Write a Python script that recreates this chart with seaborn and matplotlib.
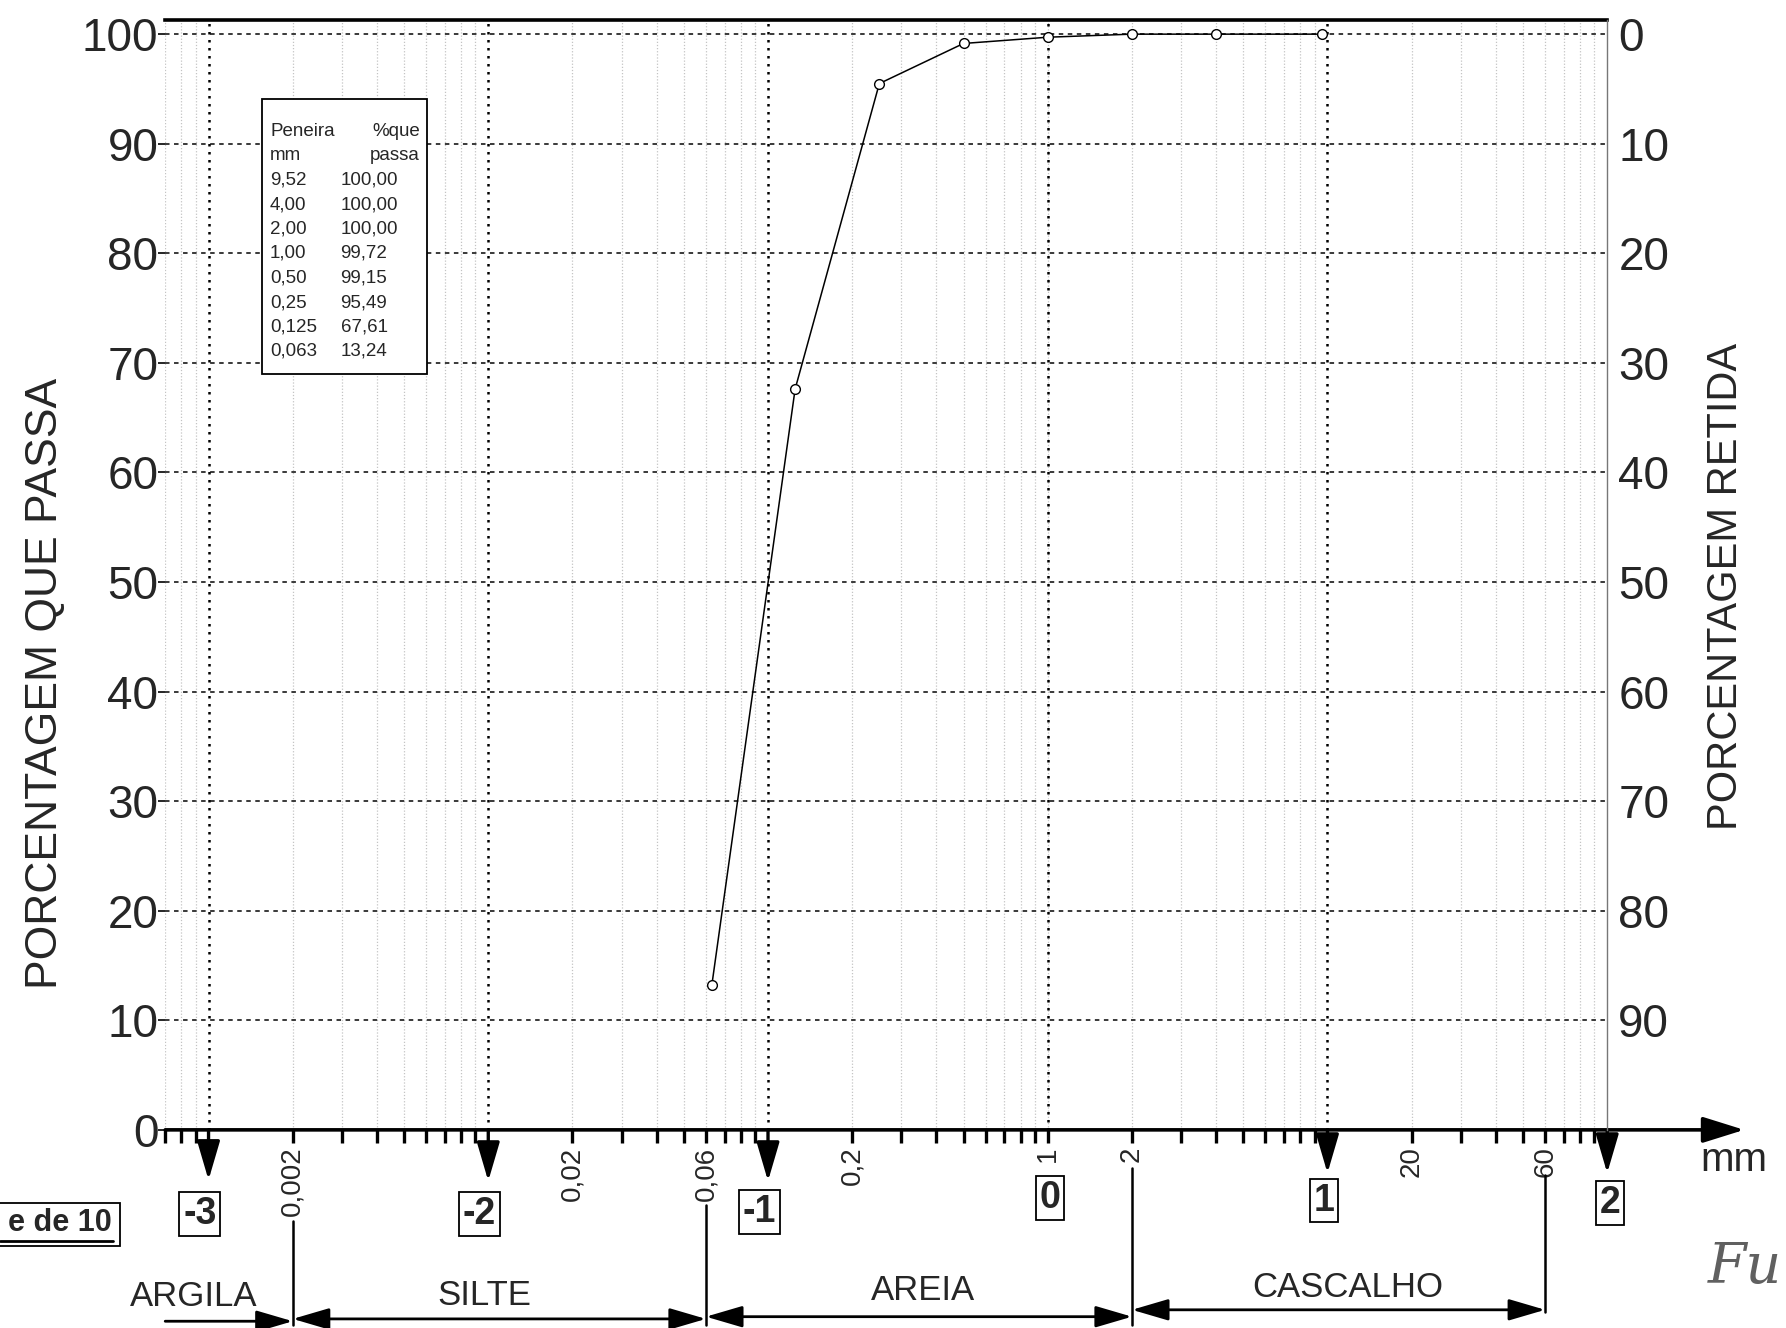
import numpy as np
import pandas as pd
import matplotlib
matplotlib.use("Agg")
import matplotlib.pyplot as plt
import seaborn as sns
from matplotlib.ticker import FixedLocator, FixedFormatter, NullFormatter
from matplotlib.transforms import blended_transform_factory
from matplotlib.patches import Rectangle
from matplotlib.lines import Line2D

# ---------------- data ----------------
sieve_mm = [9.52, 4.00, 2.00, 1.00, 0.50, 0.25, 0.125, 0.063]
pct_passing = [100.00, 100.00, 100.00, 99.72, 99.15, 95.49, 67.61, 13.24]
sieve_labels = ["9,52", "4,00", "2,00", "1,00", "0,50", "0,25", "0,125", "0,063"]
passing_labels = ["100,00", "100,00", "100,00", "99,72", "99,15", "95,49", "67,61", "13,24"]

y_ticks = [0, 10, 20, 30, 40, 50, 60, 70, 80, 90, 100]
retained_ticks = [0, 10, 20, 30, 40, 50, 60, 70, 80, 90]
x_label_ticks = [0.002, 0.02, 0.06, 0.2, 1, 2, 20, 60]
x_label_text = ["0,002", "0,02", "0,06", "0,2", "1", "2", "20", "60"]
decades = [0.001, 0.01, 0.1, 1, 10, 100]
decade_labels = ["-3", "-2", "-1", "0", "1", "2"]
class_bounds = [0.0007, 0.002, 0.06, 2, 60]
class_names = ["ARGILA", "SILTE", "AREIA", "CASCALHO"]

# ---------------- style ----------------
sns.set_style("white")
plt.rcParams["font.family"] = ["Liberation Sans", "DejaVu Sans"]
NARROW = ["Liberation Sans Narrow", "Liberation Sans", "DejaVu Sans"]

W, H = 1786, 1328
fig = plt.figure(figsize=(W / 100, H / 100), dpi=100)
ax = fig.add_axes([0.0925, 0.1492, 0.8074, 0.8354])

df = pd.DataFrame({"mm": sieve_mm, "passa": pct_passing})
sns.lineplot(data=df, x="mm", y="passa", ax=ax, color="black", lw=1.1,
             marker="o", markersize=7, markerfacecolor="white",
             markeredgecolor="black", markeredgewidth=1.0, zorder=5)

ax.set_xscale("log")
ax.set_xlim(0.0007, 100)
ax.set_ylim(0, 101.25)
ax.set_xlabel("")
ax.set_ylabel("")

# x ticks
minor_pos = []
for d in [1e-4, 1e-3, 1e-2, 1e-1, 1, 10]:
    for m in range(2, 10):
        v = float(f"{m * d:.6g}")
        if 0.0007 <= v <= 100 and v not in x_label_ticks:
            minor_pos.append(v)
ax.xaxis.set_major_locator(FixedLocator(x_label_ticks))
ax.xaxis.set_major_formatter(FixedFormatter(x_label_text))
ax.xaxis.set_minor_locator(FixedLocator(minor_pos))
ax.xaxis.set_minor_formatter(NullFormatter())
ax.tick_params(axis="x", which="both", direction="out", length=9, width=2.4,
               color="black", bottom=True)
ax.tick_params(axis="x", which="major", labelrotation=90, labelsize=20, pad=3)

# y ticks
ax.set_yticks(y_ticks)
ax.tick_params(axis="y", which="major", direction="out", length=5, width=1.4,
               labelsize=33, pad=0, left=True)

# grids
ax.grid(False)
ax.xaxis.grid(True, which="both", color="#c4c4c4", lw=0.9, ls=(0, (1, 1.5)), zorder=1)
ax.yaxis.grid(True, which="major", color="#2a2a2a", lw=1.3, ls=(0, (2.5, 2.5)), zorder=1)
for d in decades[:-1]:
    ax.axvline(d, color="black", lw=1.8, ls=(0, (1, 2.2)), zorder=2)

# spines
ax.spines["left"].set_visible(False)
ax.spines["bottom"].set_visible(False)
ax.spines["right"].set_visible(False)
ax.spines["top"].set_linewidth(2.6)
ax.spines["top"].set_color("black")

# bottom axis with arrow
ax.annotate("", xy=(1.095, 0), xytext=(0, 0), xycoords="axes fraction",
            textcoords="axes fraction", annotation_clip=False,
            arrowprops=dict(arrowstyle="-|>,head_length=0.8,head_width=0.25",
                            lw=2.6, color="black", mutation_scale=32,
                            shrinkA=0, shrinkB=0))

# right axis (percent retained)
ax2 = ax.twinx()
ax2.set_ylim(100, -1.25)
ax2.set_yticks(retained_ticks)
ax2.tick_params(axis="y", length=0, labelsize=33, pad=8)
for s in ["top", "left", "bottom"]:
    ax2.spines[s].set_visible(False)
ax2.spines["right"].set_color("#777777")
ax2.spines["right"].set_linewidth(1.0)
ax2.grid(False)

# axis titles
fig.text(45.6 / W, 1 - 683 / H, "PORCENTAGEM QUE PASSA", rotation=90,
         ha="center", va="center", fontsize=32)
fig.text(1725.6 / W, 1 - 586.6 / H, "PORCENTAGEM RETIDA", rotation=90,
         ha="center", va="center", fontsize=30)
fig.text(1734 / W, 1 - 1160 / H, "mm", ha="center", va="center", fontsize=29)

# decade arrows + boxed labels
tr = blended_transform_factory(ax.transData, ax.transAxes)
tips = [-0.0452, -0.0462, -0.0462, None, -0.039, -0.039]
box_x = [0.00093, 0.0093, 0.093, 1.02, 9.7, 102]
box_y = [-0.076, -0.076, -0.0739, -0.0616, -0.0637, -0.0657]
for d, tip, lab, bx, by in zip(decades, tips, decade_labels, box_x, box_y):
    if tip is not None:
        ax.annotate("", xy=(d, tip), xytext=(d, 0), xycoords=tr, textcoords=tr,
                    annotation_clip=False,
                    arrowprops=dict(arrowstyle="-|>,head_length=0.75,head_width=0.22",
                                    lw=2.4, color="black", mutation_scale=32,
                                    shrinkA=0, shrinkB=0))
    ax.text(bx, by, lab, transform=tr, ha="center", va="center", fontsize=27,
            fontweight="bold", family=NARROW, clip_on=False,
            bbox=dict(boxstyle="square,pad=0.1", fc="white", ec="black", lw=1.3))

# class boundaries (start below the tick labels)
bound_top = [None, -0.082, -0.068, -0.0344, -0.0407]
bound_bot = [None, -0.1756, -0.1756, -0.1756, -0.1643]
for b, t0, t1 in zip(class_bounds, bound_top, bound_bot):
    if t0 is None:
        continue
    ax.add_line(Line2D([b, b], [t0, t1], transform=tr, color="black", lw=1.8,
                       clip_on=False))

arrow_y = [-0.1725, -0.1704, -0.1684, -0.1622]
text_x = [0.000885, 0.00966, 0.357, 11.8]
text_y = [-0.1499, -0.1489, -0.1448, -0.1417]
for i, name in enumerate(class_names):
    x0, x1 = class_bounds[i], class_bounds[i + 1]
    style = ("-|>" if i == 0 else "<|-|>") + ",head_length=0.75,head_width=0.22"
    ax.annotate("", xy=(x1, arrow_y[i]), xytext=(x0, arrow_y[i]), xycoords=tr,
                textcoords=tr, annotation_clip=False,
                arrowprops=dict(arrowstyle=style, lw=2.0, color="black",
                                mutation_scale=30, shrinkA=0, shrinkB=0))
    ax.text(text_x[i], text_y[i], name, transform=tr, ha="center", va="center",
            fontsize=25, clip_on=False)

# sieve table box
fig.patches.append(Rectangle((262 / W, 1 - 374 / H), (427 - 262) / W, (374 - 99) / H,
                             transform=fig.transFigure, fc="white", ec="black",
                             lw=1.3, zorder=10))
fs = 13.5
fig.text(270 / W, 1 - 132 / H, "Peneira", ha="left", va="center", fontsize=fs, zorder=11)
fig.text(420 / W, 1 - 132 / H, "%que", ha="right", va="center", fontsize=fs, zorder=11)
fig.text(270 / W, 1 - 156 / H, "mm", ha="left", va="center", fontsize=fs, zorder=11)
fig.text(420 / W, 1 - 156 / H, "passa", ha="right", va="center", fontsize=fs, zorder=11)
for i, (s, p) in enumerate(zip(sieve_labels, passing_labels)):
    yy = 180 + i * 24.5
    fig.text(270 / W, 1 - yy / H, s, ha="left", va="center", fontsize=fs, zorder=11)
    fig.text(340.5 / W, 1 - yy / H, p, ha="left", va="center", fontsize=fs, zorder=11)

# partial caption at left edge
fig.patches.append(Rectangle((-5 / W, 1 - 1246 / H), 125 / W, 43 / H,
                             transform=fig.transFigure, fc="white", ec="black",
                             lw=1.3, zorder=10))
fig.text(112 / W, 1 - 1223 / H, "e de 10", ha="right", va="center", fontsize=22,
         fontweight="bold", zorder=11)
fig.lines.append(Line2D([0, 113 / W], [1 - 1241 / H, 1 - 1241 / H],
                        transform=fig.transFigure, color="black", lw=2.0, zorder=11))

# handwritten mark
fig.text(1782 / W, 1 - 1268 / H, "Fu", ha="right", va="center", fontsize=40,
         color="#606060", family=["DejaVu Serif"], fontstyle="italic",
         fontweight="light")

fig.savefig("out.png", dpi=100)
